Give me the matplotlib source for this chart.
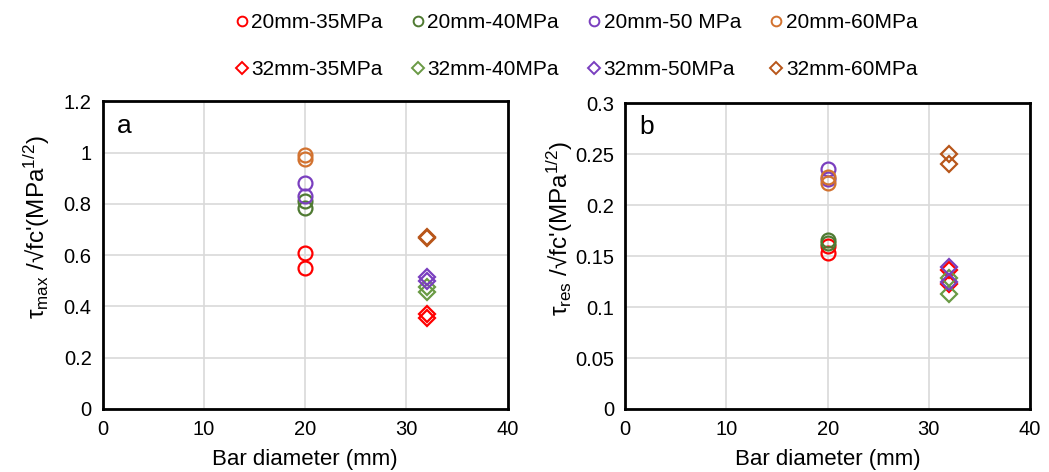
import matplotlib.pyplot as plt
from matplotlib.lines import Line2D

plt.rcParams['font.family'] = ['Liberation Sans', 'DejaVu Sans']
plt.rcParams['mathtext.fontset'] = 'custom'
plt.rcParams['mathtext.rm'] = 'Liberation Sans'
plt.rcParams['mathtext.it'] = 'Liberation Sans'

# strength grades and colours
grades = ["35MPa", "40MPa", "50 MPa", "60MPa"]
grades_32 = ["35MPa", "40MPa", "50MPa", "60MPa"]
circle_colors = ["#FF0000", "#4F7A32", "#7A3FBF", "#D2722F"]
diamond_colors = ["#FF0000", "#6A9A45", "#7A3FBF", "#B8561A"]

# bar diameters
d20 = [20, 20]
d32 = [32, 32]

# panel a: tau_max / sqrt(fc')
a20 = [[0.61, 0.55], [0.81, 0.785], [0.88, 0.83], [0.99, 0.975]]
a32 = [[0.372, 0.355], [0.475, 0.455], [0.515, 0.50], [0.672, 0.665]]

# panel b: tau_res / sqrt(fc')
b20 = [[0.160, 0.153], [0.166, 0.163], [0.235, 0.226], [0.228, 0.222]]
b32 = [[0.136, 0.123], [0.128, 0.113], [0.139, 0.125], [0.250, 0.240]]

fig = plt.figure(figsize=(10.49, 4.72), dpi=100)
ax_a = fig.add_axes([0.098, 0.1335, 0.386, 0.652])
ax_b = fig.add_axes([0.596, 0.1335, 0.386, 0.648])


def draw_panel(ax, y20, y32, ymax, ystep, ylabel, tag):
    for i in range(4):
        ax.plot(d20, y20[i], linestyle='none', marker='o', ms=10, mfc='none',
                mec=circle_colors[i], mew=1.6, zorder=3)
        ax.plot(d32, y32[i], linestyle='none', marker='D', ms=8, mfc='none',
                mec=diamond_colors[i], mew=1.6, zorder=3)
    ax.set_xlim(0, 40)
    ax.set_ylim(0, ymax)
    ax.set_xticks(range(0, 41, 10))
    n = int(round(ymax / ystep))
    ticks = [round(k * ystep, 3) for k in range(n + 1)]
    ax.set_yticks(ticks)
    ax.set_yticklabels(['%g' % t for t in ticks])
    ax.grid(True, color='#D9D9D9', lw=1.2)
    ax.set_axisbelow(True)
    for s in ax.spines.values():
        s.set_linewidth(2)
        s.set_color('black')
    ax.tick_params(length=0, labelsize=14.5, pad=8)
    ax.set_xlabel('Bar diameter (mm)', fontsize=16, labelpad=7)
    ax.set_ylabel(ylabel, fontsize=17.5)
    ax.yaxis.set_label_coords(-0.125, 0.59)
    ax.text(0.035, 0.96, tag, transform=ax.transAxes, fontsize=19,
            ha='left', va='top')


draw_panel(ax_a, a20, a32, 1.2, 0.2,
           r"$\mathregular{\tau_{max}}$ /√fc'(MPa$\mathregular{^{1/2}}$)", 'a')
draw_panel(ax_b, b20, b32, 0.3, 0.05,
           r"$\mathregular{\tau_{res}}$ /√fc'(MPa$\mathregular{^{1/2}}$)", 'b')

handles = []
labels = []
for i in range(4):
    handles.append(Line2D([], [], linestyle='none', marker='o', ms=7, mfc='none',
                          mec=circle_colors[i], mew=1.4))
    labels.append('20mm-' + grades[i])
    handles.append(Line2D([], [], linestyle='none', marker='D', ms=6, mfc='none',
                          mec=diamond_colors[i], mew=1.4))
    labels.append('32mm-' + grades_32[i])

fig.legend(handles, labels, ncol=4, loc='upper center', bbox_to_anchor=(0.548, 1.012),
           frameon=False, fontsize=15, labelspacing=1.35, columnspacing=1.25,
           handletextpad=0.0, handlelength=0.9)

fig.savefig('out.png', dpi=100)
